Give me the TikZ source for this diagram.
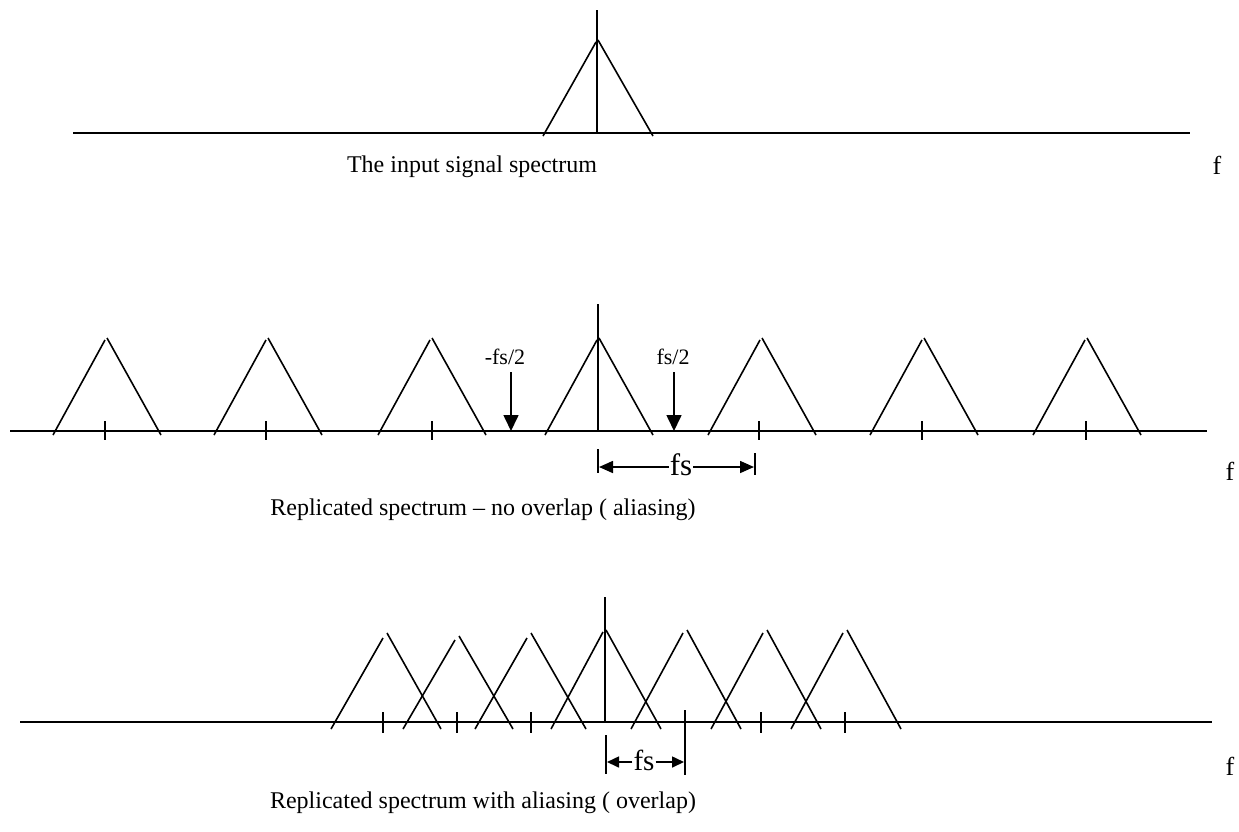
\documentclass[tikz,border=0pt]{standalone}
\usepackage{fontspec}
\setmainfont{Liberation Serif}
\usetikzlibrary{arrows.meta}
\begin{document}
\begin{tikzpicture}[x=1pt,y=-1pt,
  ln/.style={line width=1.6pt, line cap=butt},
  capt/.style={font=\fontsize{24}{28}\selectfont, inner sep=0pt},
  flab/.style={font=\fontsize{26}{30}\selectfont, inner sep=0pt},
  small/.style={font=\fontsize{22}{26}\selectfont, inner sep=0pt},
  fslab/.style={font=\fontsize{31}{34}\selectfont, inner sep=1pt},
  fslabsm/.style={font=\fontsize{29}{32}\selectfont, inner sep=1pt},
  downarrow/.style={ln, -{Triangle[length=16pt,width=15pt]}},
  fsarrow/.style={ln, -{Triangle[length=14pt,width=12pt]}},
  fsarrowsm/.style={ln, -{Triangle[length=12pt,width=11pt]}}]
\useasboundingbox (0,0) rectangle (1239,831);

% ---------- top panel ----------
\draw[ln] (73,133) -- (1190,133);
\draw[ln] (597,10) -- (597,133);
\draw[ln] (543,136) -- (596,42);
\draw[ln] (598,40) -- (653,136);
\node[capt] (cap1) at (472,167) {The input signal spectrum};
\node[flab] (f1) at (1217,165) {f};

% ---------- middle panel ----------
\draw[ln] (10,431) -- (1207,431);
\draw[ln] (598,304) -- (598,431);
\foreach \c in {106,267,431,598,761,923,1086}{
  \draw[ln] ({\c-53},435) -- ({\c-1},340);
  \draw[ln] ({\c+1},338) -- ({\c+55},435);
}
\foreach \t in {105,266,432,759,922,1086}{
  \draw[ln] (\t,421) -- (\t,440);
}
\node[small] (mfs) at (505,357) {-fs/2};
\node[small] (pfs) at (673,357) {fs/2};
\coordinate (mfsT) at (511,431);
\coordinate (pfsT) at (674,431);
\draw[downarrow] (511,372) -- (mfsT);
\draw[downarrow] (674,372) -- (pfsT);
\coordinate (bl1a) at (598,449); \coordinate (bl1b) at (598,473);
\coordinate (br1a) at (755,453); \coordinate (br1b) at (755,475);
\draw[ln] (bl1a) -- (bl1b);
\draw[ln] (br1a) -- (br1b);
\node[fslab] (fs1) at (681,465) {fs};
\draw[fsarrow] (fs1.west |- 0,467) -- (599,467);
\draw[fsarrow] (fs1.east |- 0,467) -- (754,467);
\node[flab] (f2) at (1230,471) {f};
\node[capt] (cap2) at (483,510) {Replicated spectrum -- no overlap ( aliasing)};

% ---------- bottom panel ----------
\draw[ln] (20,722) -- (1212,722);
\draw[ln] (605,597) -- (605,722);
\foreach \l/\a/\b/\r/\ay/\by in {331/383/387/441/638/633, 403/455/459/513/640/636, 475/527/531/586/638/633, 551/603/606/661/632/630, 631/683/687/741/633/630, 711/763/767/821/633/630, 791/843/847/901/633/630}{
  \draw[ln] (\l,729) -- (\a,\ay);
  \draw[ln] (\b,\by) -- (\r,729);
}
\foreach \t in {383,457,531,761,845}{
  \draw[ln] (\t,712) -- (\t,733);
}
\coordinate (bl2a) at (606,735); \coordinate (bl2b) at (606,774);
\coordinate (br2a) at (685,710); \coordinate (br2b) at (685,775);
\draw[ln] (bl2a) -- (bl2b);
\draw[ln] (br2a) -- (br2b);
\node[fslabsm] (fs2) at (644,760) {fs};
\draw[fsarrowsm] (fs2.west |- 0,762) -- (607,762);
\draw[fsarrowsm] (fs2.east |- 0,762) -- (684,762);
\node[flab] (f3) at (1230,766) {f};
\node[capt] (cap3) at (483,803) {Replicated spectrum with aliasing ( overlap)};
\end{tikzpicture}
\end{document}
